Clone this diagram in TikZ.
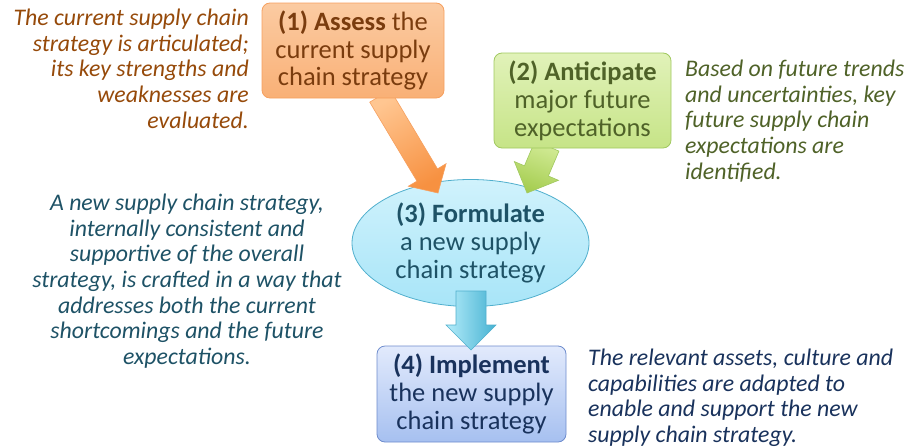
\documentclass[tikz,border=0pt]{standalone}
\usepackage{fontspec}
\setmainfont{Carlito}
\usetikzlibrary{shapes.geometric,calc}
\definecolor{orBorder}{RGB}{246,160,95}
\definecolor{orTop}{RGB}{251,203,162}
\definecolor{orBot}{RGB}{249,176,118}
\definecolor{orText}{RGB}{122,60,14}
\definecolor{orNote}{RGB}{150,74,10}
\definecolor{orArrL}{RGB}{255,198,145}
\definecolor{orArrD}{RGB}{247,145,65}
\definecolor{grBorder}{RGB}{160,200,95}
\definecolor{grTop}{RGB}{225,242,185}
\definecolor{grBot}{RGB}{198,228,135}
\definecolor{grText}{RGB}{79,98,40}
\definecolor{grArrL}{RGB}{210,235,150}
\definecolor{grArrD}{RGB}{165,205,80}
\definecolor{cyBorder}{RGB}{80,175,205}
\definecolor{cyTop}{RGB}{208,242,252}
\definecolor{cyBot}{RGB}{168,229,248}
\definecolor{cyText}{RGB}{30,82,102}
\definecolor{cyArrL}{RGB}{180,236,250}
\definecolor{cyArrD}{RGB}{70,178,210}
\definecolor{blBorder}{RGB}{110,140,205}
\definecolor{blTop}{RGB}{226,234,252}
\definecolor{blBot}{RGB}{166,192,240}
\definecolor{blText}{RGB}{25,50,92}
\newcommand\blockarrow[6]{%
  \path let \p1=($(#2)-(#1)$), \n1={atan2(\y1,\x1)}, \n2={veclen(\x1,\y1)-#5} in
    coordinate (ba1) at ($(#1)+(\n1+90:#3)$)
    coordinate (ba2) at ($(#1)+(\n1:\n2)+(\n1+90:#3)$)
    coordinate (ba3) at ($(#1)+(\n1:\n2)+(\n1+90:#4)$)
    coordinate (ba5) at ($(#1)+(\n1:\n2)+(\n1-90:#4)$)
    coordinate (ba6) at ($(#1)+(\n1:\n2)+(\n1-90:#3)$)
    coordinate (ba7) at ($(#1)+(\n1-90:#3)$);
  \draw[#6] (ba1) -- (ba2) -- (ba3) -- (#2) -- (ba5) -- (ba6) -- (ba7) -- cycle;}
\tikzset{
  boxtext/.style={font=\fontsize{26.5}{27.8}\selectfont, align=center, inner sep=0pt},
  note/.style={font=\fontsize{23.8}{25.6}\selectfont\itshape, inner sep=0pt},
  stepbox/.style={boxtext, rounded corners=8pt, line width=0.8pt},
}
\begin{document}
\begin{tikzpicture}[x=1pt,y=-1pt]
\useasboundingbox (0,0) rectangle (909,447);
% ellipse (3)
\node[ellipse, boxtext, minimum width=237pt, minimum height=127pt, draw=cyBorder, line width=0.8pt,
      top color=cyTop, bottom color=cyBot, text=cyText] (form) at (470.5,243)
  {\textbf{(3) Formulate}\\a new supply\\chain strategy};
% anchors for arrows
\coordinate (s1) at (380,96);
\coordinate (t1) at (438,193);
\coordinate (s2) at (547,146);
\coordinate (t2) at (527,193);
\coordinate (s3) at (471,291);
\coordinate (t3) at (471,350);
\blockarrow{s1}{t1}{12pt}{22pt}{21pt}{draw=orBorder, line width=0.6pt, left color=orArrL, right color=orArrD, shading angle=30}
\blockarrow{s2}{t2}{13pt}{24pt}{24pt}{draw=grBorder, line width=0.6pt, left color=grArrL, right color=grArrD, shading angle=-20}
% box (4)
\node[stepbox, minimum width=189pt, minimum height=96pt, draw=blBorder,
      top color=blTop, bottom color=blBot, text=blText] (impl) at (471.5,394)
  {\textbf{(4) Implement}\\the new supply\\chain strategy};
\blockarrow{s3}{t3}{15pt}{25pt}{25pt}{draw=cyBorder, line width=0.6pt, left color=cyArrL, right color=cyArrD}
% box (1)
\node[stepbox, minimum width=182pt, minimum height=95pt, draw=orBorder,
      top color=orTop, bottom color=orBot, text=orText] (assess) at (353,50.5)
  {\textbf{(1) Assess} the\\current supply\\chain strategy};
% box (2)
\node[stepbox, minimum width=177pt, minimum height=95pt, draw=grBorder,
      top color=grTop, bottom color=grBot, text=grText] (antic) at (582.5,100.5)
  {\textbf{(2) Anticipate}\\major future\\expectations};
% notes
\node[note, text=orNote, align=right, anchor=north east] (n1) at (249,9)
  {The current supply chain\\strategy is articulated;\\its key strengths and\\weaknesses are\\evaluated.};
\node[note, text=grText, align=left, anchor=north west] (n2) at (685,60)
  {Based on future trends\\and uncertainties, key\\future supply chain\\expectations are\\identified.};
\node[note, text=cyText, align=center, anchor=north] (n3) at (187,194)
  {A new supply chain strategy,\\internally consistent and\\supportive of the overall\\strategy, is crafted in a way that\\addresses both the current\\shortcomings and the future\\expectations.};
\node[note, text=blText, align=left, anchor=north west] (n4) at (588,349)
  {The relevant assets, culture and\\capabilities are adapted to\\enable and support the new\\supply chain strategy.};
\end{tikzpicture}
\end{document}
